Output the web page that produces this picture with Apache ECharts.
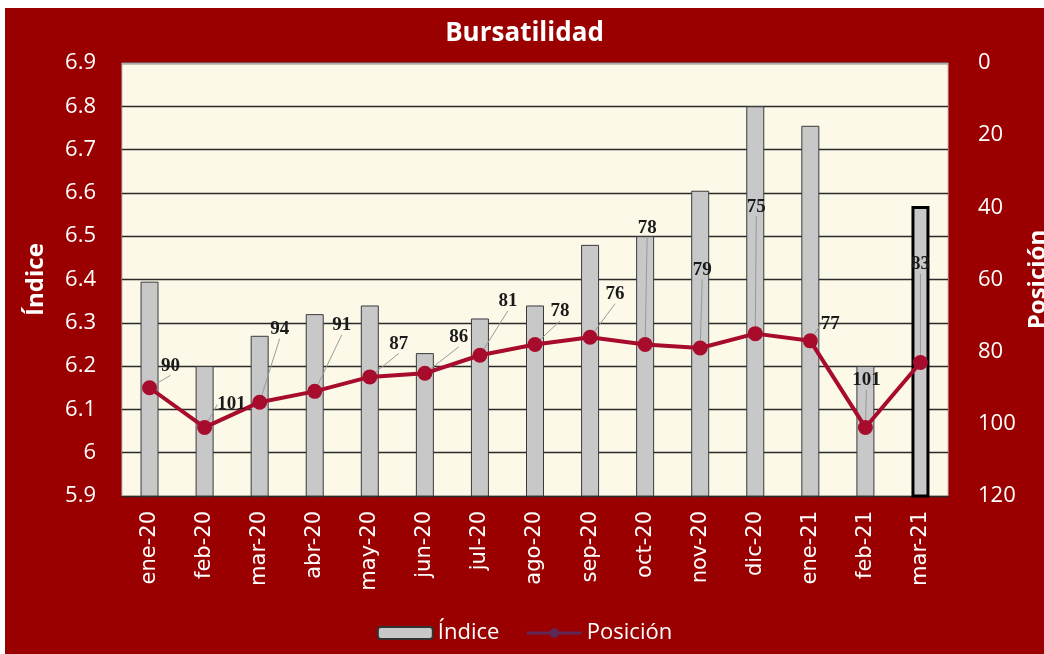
<!DOCTYPE html>
<html>
<head>
<meta charset="utf-8">
<script src="https://cdn.jsdelivr.net/npm/echarts@6/dist/echarts.min.js"></script>
<style>
  html, body { margin: 0; padding: 0; background: #ffffff; }
  #bursatilidad { position: absolute; left: 5px; top: 8px; width: 1039px; height: 646px; }
</style>
</head>
<body>
<div id="bursatilidad"></div>
<script>
  // datos
  const meses = ['ene-20', 'feb-20', 'mar-20', 'abr-20', 'may-20', 'jun-20', 'jul-20', 'ago-20',
    'sep-20', 'oct-20', 'nov-20', 'dic-20', 'ene-21', 'feb-21', 'mar-21'];
  const indice = [6.395, 6.2, 6.27, 6.32, 6.34, 6.23, 6.31, 6.34, 6.48, 6.5, 6.605, 6.8, 6.755, 6.2, 6.57];
  const posicion = [90, 101, 94, 91, 87, 86, 81, 78, 76, 78, 79, 75, 77, 101, 83];

  // desplazamiento de las etiquetas (como en el grafico original)
  const labelOffsets = [[21, -22], [27, -23], [20, -73], [27, -66], [29, -33], [34, -36], [28, -54],
    [25, -33], [25, -43], [2, -116], [2, -78], [1, -127], [20, -17], [1, -47], [0, -98]];

  const blanco = '#ffffff';
  const fuente = 'Open Sans';

  const chart = echarts.init(document.getElementById('bursatilidad'));
  chart.setOption({
    backgroundColor: '#9a0000',
    animation: false,
    title: {
      text: 'Bursatilidad',
      left: 'center',
      top: 8,
      textStyle: { color: blanco, fontSize: 26, fontWeight: 'bold', fontFamily: fuente }
    },
    grid: {
      left: 117,
      right: 96,
      top: 55,
      bottom: 158,
      outerBoundsMode: 'none',
      show: true,
      backgroundColor: '#fdf9e8',
      borderColor: '#bbbbbb',
      borderWidth: 1
    },
    legend: {
      bottom: 5,
      left: 'center',
      itemWidth: 55,
      itemHeight: 12,
      itemGap: 26,
      textStyle: { color: blanco, fontSize: 22, fontFamily: fuente },
      data: [
        { name: 'Índice', itemStyle: { color: '#c8c8c8', borderColor: '#333', borderWidth: 2 } },
        { name: 'Posición', itemStyle: { color: '#5e2a55' }, lineStyle: { color: '#5e2a55', width: 3 } }
      ]
    },
    xAxis: {
      type: 'category',
      data: meses,
      axisLine: { show: true, lineStyle: { color: '#aaaaaa' } },
      axisTick: { show: false },
      axisLabel: {
        rotate: 90,
        margin: 15,
        color: blanco,
        fontSize: 21,
        fontFamily: 'DejaVu Sans'
      }
    },
    yAxis: [{
      type: 'value',
      name: 'Índice',
      nameLocation: 'middle',
      nameGap: 74,
      nameTextStyle: { color: blanco, fontSize: 24, fontWeight: 'bold', fontFamily: fuente },
      min: 5.9,
      max: 6.9,
      interval: 0.1,
      axisLine: { show: false },
      axisTick: { show: false },
      axisLabel: {
        color: blanco,
        fontSize: 22,
        margin: 26,
        fontFamily: fuente,
        formatter: v => String(Math.round(v * 10) / 10)
      },
      splitLine: { show: true, lineStyle: { color: '#2a2a2a', width: 1.3 } }
    }, {
      type: 'value',
      name: 'Posición',
      nameLocation: 'middle',
      nameRotate: 90,
      nameGap: 78,
      nameTextStyle: { color: blanco, fontSize: 24, fontWeight: 'bold', fontFamily: fuente },
      inverse: true,
      min: 0,
      max: 120,
      interval: 20,
      axisLine: { show: false },
      axisTick: { show: false },
      axisLabel: { color: blanco, fontSize: 22, margin: 30, fontFamily: fuente },
      splitLine: { show: false }
    }],
    series: [{
      name: 'Índice',
      type: 'bar',
      barWidth: 18,
      yAxisIndex: 0,
      itemStyle: { color: '#c8c8c8', borderColor: '#3a3a3a', borderWidth: 1 },
      data: indice.map((v, i) => i === indice.length - 1
        ? { value: v, itemStyle: { borderColor: '#000', borderWidth: 3 } }
        : v)
    }, {
      name: 'Posición',
      type: 'line',
      yAxisIndex: 1,
      symbol: 'circle',
      symbolSize: 15,
      lineStyle: { color: '#a80c2c', width: 4 },
      itemStyle: { color: '#a80c2c' },
      z: 3,
      label: {
        show: true,
        position: 'inside',
        color: '#1a1a1a',
        fontSize: 19,
        fontWeight: 'bold',
        fontFamily: 'Liberation Serif'
      },
      labelLine: { show: true, lineStyle: { color: '#9a9a9a', width: 1 } },
      labelLayout: function (p) {
        const o = labelOffsets[p.dataIndex];
        return {
          x: p.rect.x + p.rect.width / 2 + o[0],
          y: p.rect.y + p.rect.height / 2 + o[1],
          align: 'center',
          verticalAlign: 'middle'
        };
      },
      data: posicion
    }]
  });
</script>
</body>
</html>
